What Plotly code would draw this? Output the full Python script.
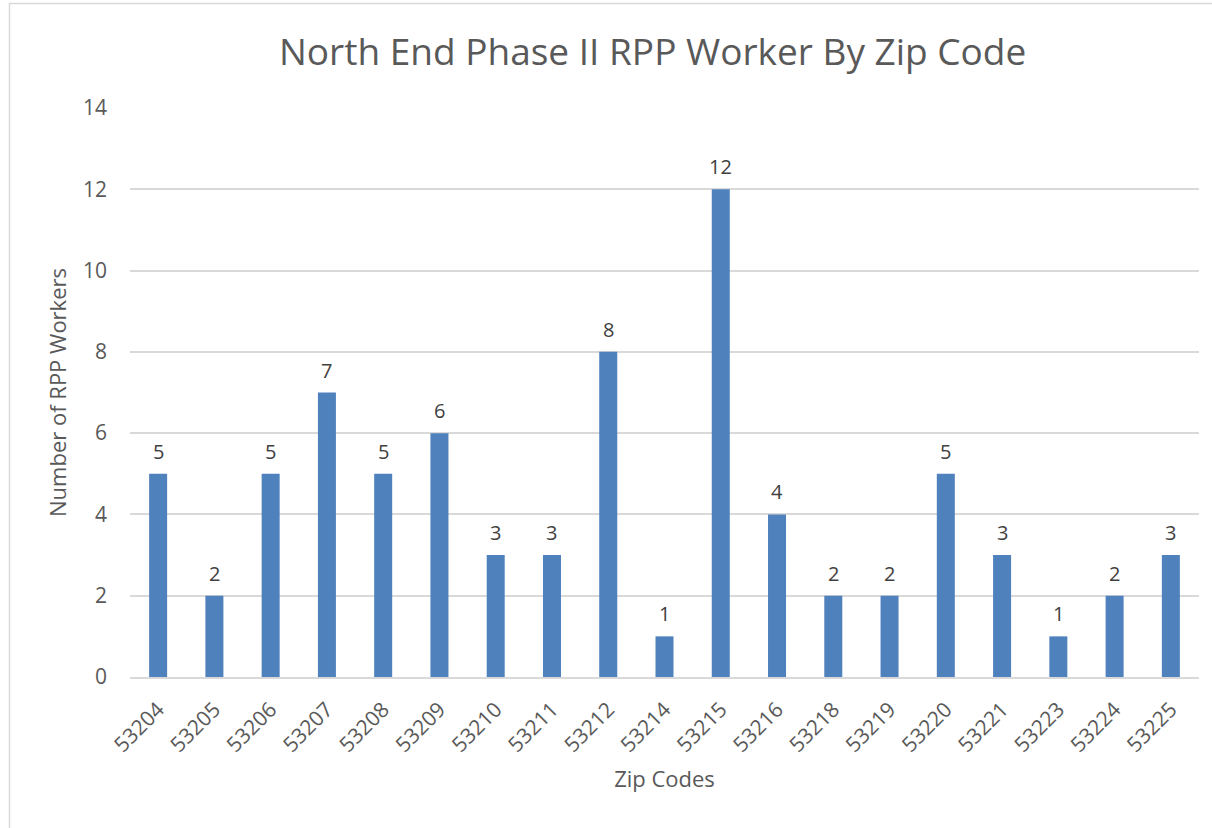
import plotly.graph_objects as go

zip_codes = ["53204", "53205", "53206", "53207", "53208", "53209", "53210", "53211", "53212",
             "53214", "53215", "53216", "53218", "53219", "53220", "53221", "53223", "53224", "53225"]
workers = [5, 2, 5, 7, 5, 6, 3, 3, 8, 1, 12, 4, 2, 2, 5, 3, 1, 2, 3]

W, H = 1212, 828
L, R, T, B = 130, 13, 108, 151
pw = W - L - R
ph = H - T - B

def px_x(x):
    return (x - L) / pw

def px_y(y):
    return (H - B - y) / ph

FONT = "Open Sans"
fig = go.Figure(go.Bar(
    x=zip_codes, y=workers,
    marker=dict(color="#4F81BD", line=dict(width=0)),
    cliponaxis=False,
))

# category index positions for the value labels (category axis scale)
labels = [dict(x=i, y=v, text=str(v), xref="x", yref="y", showarrow=False,
               yanchor="bottom", yshift=7,
               font=dict(family=FONT, size=20, color="#404040"))
          for i, v in enumerate(workers)]

fig.update_layout(
    width=W, height=H,
    margin=dict(l=L, r=R, t=T, b=B),
    paper_bgcolor="white", plot_bgcolor="white",
    bargap=0.68,
    showlegend=False,
    font=dict(family=FONT, color="#595959"),
    annotations=labels + [
        dict(text="North End Phase II RPP Worker By Zip Code", xref="paper", yref="paper",
             x=px_x(652), y=px_y(51), xanchor="center", yanchor="middle", showarrow=False,
             font=dict(family=FONT, size=37, color="#595959")),
    ],
    shapes=[
        dict(type="rect", xref="paper", yref="paper",
             x0=px_x(9.5), x1=px_x(1216), y0=px_y(832), y1=px_y(3.5),
             line=dict(color="#D9D9D9", width=1.5), fillcolor="rgba(0,0,0,0)", layer="below"),
    ],
)

fig.update_xaxes(
    type="category", tickangle=-45, range=[-0.5, len(zip_codes) - 0.5],
    tickfont=dict(family=FONT, size=21, color="#595959"),
    showline=True, linecolor="#D9D9D9", linewidth=2,
    showgrid=False, ticks="", ticklabelstandoff=10,
    title=dict(text="Zip Codes", font=dict(family=FONT, size=22, color="#595959"), standoff=15),
)
fig.update_yaxes(
    range=[0, 14], dtick=2,
    tickfont=dict(family=FONT, size=21, color="#595959"),
    showgrid=True, gridcolor="#D9D9D9", gridwidth=1.5,
    zeroline=False, showline=False, ticks="", ticklabelstandoff=22,
    title=dict(text="Number of RPP Workers", font=dict(family=FONT, size=22, color="#595959"), standoff=10),
)

fig.write_html("out.html", config={"displayModeBar": False},
               post_script="document.body.style.margin='0';")
